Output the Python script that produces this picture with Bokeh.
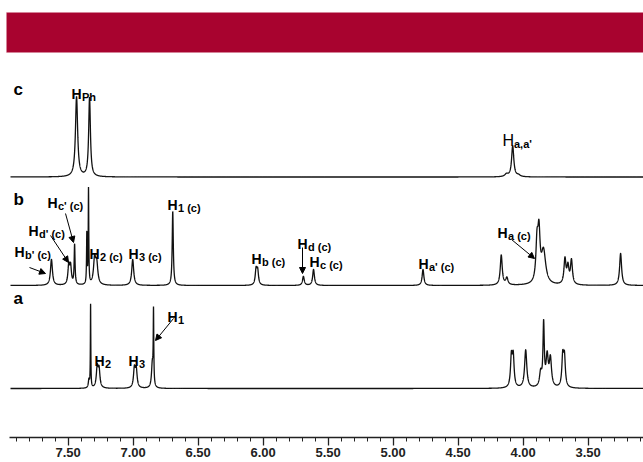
import numpy as np
from bokeh.plotting import figure
from bokeh.models import (Range1d, LinearAxis, FixedTicker, PrintfTickFormatter,
                          BoxAnnotation, Arrow, NormalHead, ColumnDataSource)
from bokeh.core.properties import value
from bokeh.embed import file_html
from bokeh.resources import INLINE

# ---------------- data (peak lists) ----------------
# spectrum c
C_PPM = [7.435, 7.335, 4.128, 4.080, 4.035]
C_INT = [80, 79, 2.5, 31, 1.5]
C_FWHM = [0.020, 0.016, 0.030, 0.020, 0.030]

# spectrum b
B_PPM = [7.628, 7.495, 7.481, 7.450, 7.356, 7.343, 7.296, 7.280, 7.003, 6.695,
         6.054, 6.042, 5.690, 5.612, 4.770, 4.168, 4.125, 3.893, 3.878, 3.843,
         3.678, 3.655, 3.628, 3.250]
B_INT = [26, 19, 18, 40, 50, 95, 25, 20, 26, 74,
         15, 14, 9, 16, 16, 30, 7, 38, 46, 33,
         25, 17, 24, 32]
B_FWHM = [0.018, 0.015, 0.015, 0.008, 0.005, 0.005, 0.020, 0.020, 0.018, 0.010,
          0.015, 0.015, 0.016, 0.016, 0.016, 0.018, 0.020, 0.020, 0.020, 0.040,
          0.018, 0.018, 0.018, 0.018]

# spectrum a
A_PPM = [7.340, 7.327, 7.276, 7.262, 6.990, 6.976, 6.852, 6.843,
         4.090, 4.076, 3.980, 3.865, 3.842, 3.815, 3.790, 3.695, 3.682]
A_INT = [8, 83, 20, 18, 19, 18, 24, 72,
         30, 30, 38, 14, 62, 30, 28, 30, 29]
A_FWHM = [0.010, 0.004, 0.016, 0.016, 0.016, 0.016, 0.015, 0.005,
          0.016, 0.016, 0.020, 0.020, 0.012, 0.020, 0.020, 0.016, 0.016]

MAJOR_TICKS = [7.50, 7.00, 6.50, 6.00, 5.50, 5.00, 4.50, 4.00, 3.50]
MINOR_TICKS = [round(7.9 - 0.1 * i, 1) for i in range(49)]

# ---------------- layout helpers (canvas pixel -> data) ----------------
W, H = 643, 462
PX_PER_PPM = 130.0
def ppm_of(px):
    return 7.50 - (px - 67.6) / PX_PER_PPM
def y_of(py):
    return H - py

X_LEFT, X_RIGHT = ppm_of(0), ppm_of(W)
BASE_C, BASE_B, BASE_A = y_of(176.5), y_of(285), y_of(388)
AXIS_Y = y_of(437)

def spectrum(x, centers, heights, widths):
    y = np.zeros_like(x)
    for c, h, w in zip(centers, heights, widths):
        y += h / (1.0 + ((x - c) / (w / 2.0)) ** 2)
    return y

x = np.arange(ppm_of(10), X_RIGHT, -0.0004)

p = figure(width=W, height=H, output_backend="svg", toolbar_location=None,
           x_range=Range1d(X_LEFT, X_RIGHT), y_range=Range1d(0, H),
           x_axis_type=None, y_axis_type=None, min_border=0)
p.outline_line_color = None
p.background_fill_color = "white"
p.border_fill_color = "white"

# banner
p.add_layout(BoxAnnotation(left=ppm_of(6), top=y_of(12), bottom=y_of(52),
                           fill_color="#A8032F", fill_alpha=1.0,
                           line_color="#D98CA0", line_width=1))

LINE = "#111111"
for base, pk, it, fw in [(BASE_C, C_PPM, C_INT, C_FWHM),
                         (BASE_B, B_PPM, B_INT, B_FWHM),
                         (BASE_A, A_PPM, A_INT, A_FWHM)]:
    src = ColumnDataSource(dict(x=x, y=base + spectrum(x, pk, it, fw)))
    p.line("x", "y", source=src, line_color=LINE, line_width=1.3)

# axis
ax = LinearAxis(ticker=FixedTicker(ticks=MAJOR_TICKS, minor_ticks=MINOR_TICKS),
                formatter=PrintfTickFormatter(format="%.2f"), fixed_location=AXIS_Y,
                bounds=(ppm_of(9), X_RIGHT))
ax.axis_line_color = "#222222"
ax.axis_line_width = 1.5
ax.major_tick_line_color = "#222222"
ax.minor_tick_line_color = "#222222"
ax.major_tick_line_width = 1.3
ax.minor_tick_line_width = 1
ax.major_tick_in = 0
ax.major_tick_out = 8
ax.minor_tick_in = 0
ax.minor_tick_out = 4
ax.major_label_standoff = 2
ax.major_label_text_font = "Liberation Sans"
ax.major_label_text_font_style = "bold"
ax.major_label_text_font_size = "13px"
ax.major_label_text_color = "#222222"
p.add_layout(ax, "below")

FONT = value("Liberation Sans")

# panel letters
letters = [("c", 13, 89), ("b", 13, 199), ("a", 13, 298)]
p.text(x=[ppm_of(l[1]) for l in letters], y=[y_of(l[2]) for l in letters],
       text=[l[0] for l in letters], text_font=FONT, text_font_style="bold",
       text_font_size="17px", text_baseline="alphabetic", text_align="left",
       text_color="black")

# H labels: (sub text, canvas x of H, canvas baseline)
LABELS = [
    ("Ph", 71, 93),
    ("b' (c)", 14, 251), ("d' (c)", 28, 230), ("c' (c)", 47, 202),
    ("2 (c)", 89, 253), ("3 (c)", 128, 253), ("1 (c)", 167, 204),
    ("b (c)", 251, 258), ("d (c)", 297, 243), ("c (c)", 309, 261),
    ("a' (c)", 418, 263), ("a (c)", 497, 232),
    ("2", 94, 360), ("3", 128, 360), ("1", 167, 316),
]
H_ADV = 10.5
p.text(x=[ppm_of(l[1]) for l in LABELS], y=[y_of(l[2]) for l in LABELS],
       text=["H"] * len(LABELS), text_font=FONT, text_font_style="bold",
       text_font_size="14px", text_baseline="alphabetic", text_align="left",
       text_color="black")
p.text(x=[ppm_of(l[1] + H_ADV) for l in LABELS], y=[y_of(l[2] + 3) for l in LABELS],
       text=[l[0] for l in LABELS], text_font=FONT, text_font_style="bold",
       text_font_size="11px", text_baseline="alphabetic", text_align="left",
       text_color="black")

# H a,a' (regular H)
p.text(x=[ppm_of(502)], y=[y_of(140)], text=["H"], text_font=FONT,
       text_font_size="16px", text_baseline="alphabetic", text_align="left",
       text_color="black")
p.text(x=[ppm_of(513.5)], y=[y_of(143)], text=["a,a'"], text_font=FONT,
       text_font_style="bold", text_font_size="11px", text_baseline="alphabetic",
       text_align="left", text_color="black")

# arrows (canvas coords)
ARROWS = [((29, 267), (45, 273)), ((50, 235), (68, 262)), ((65, 213), (73, 242)),
          ((302, 247), (302, 273)), ((511, 239), (534, 258)), ((173, 318), (155, 340))]
for (sx, sy), (ex, ey) in ARROWS:
    p.add_layout(Arrow(x_start=ppm_of(sx), y_start=y_of(sy), x_end=ppm_of(ex), y_end=y_of(ey),
                       line_color="black", line_width=1,
                       end=NormalHead(size=6, fill_color="black", line_color="black")))

open("out.html", "w").write(file_html(p, INLINE))
